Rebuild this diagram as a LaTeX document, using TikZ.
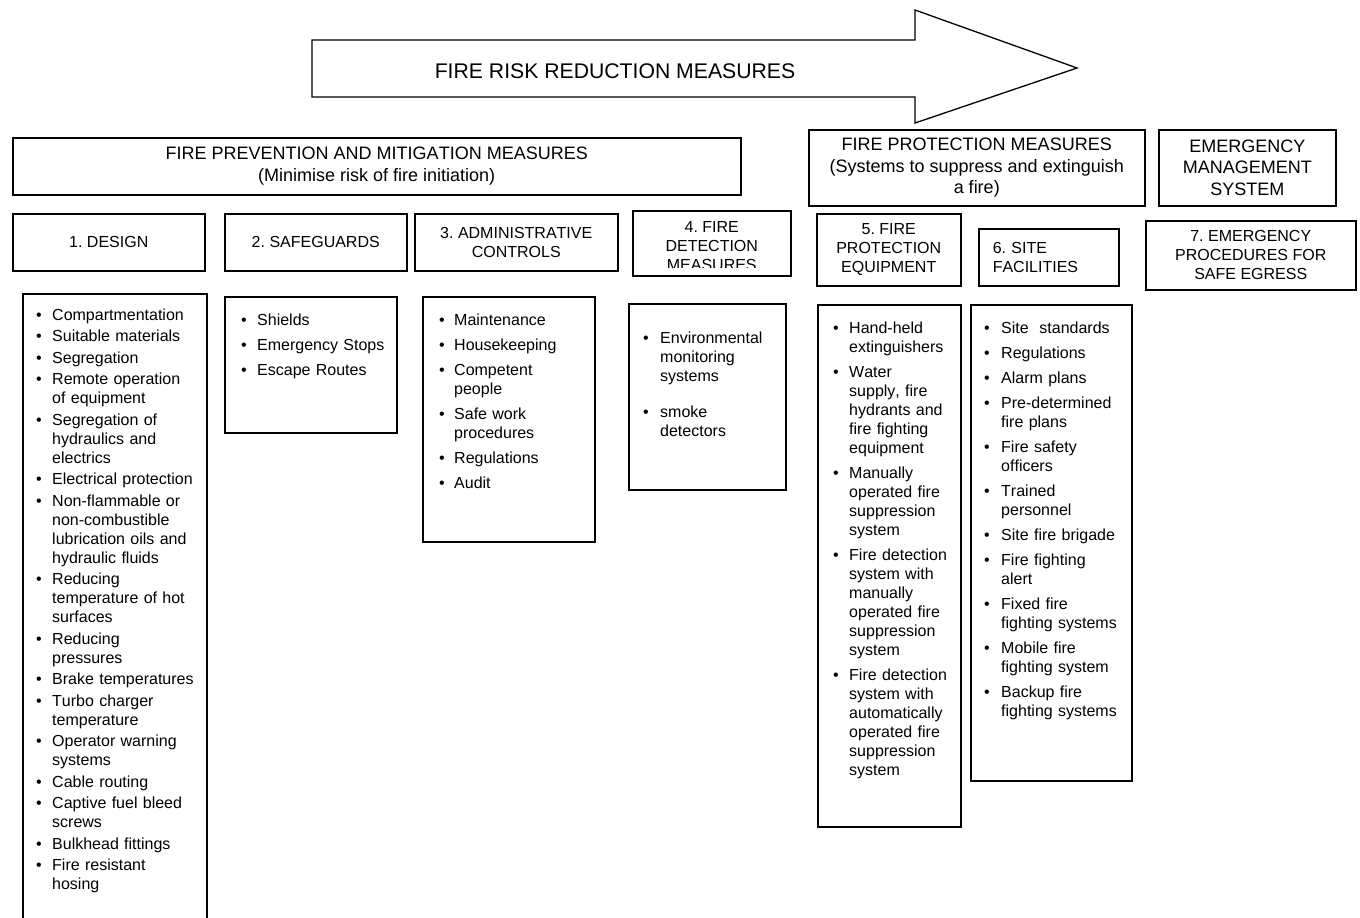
\documentclass[tikz,border=0pt]{standalone}
\usepackage{fontspec}
\setmainfont[Kerning=Off, Ligatures=NoCommon]{Liberation Sans}
\usepackage{enumitem}
\setlist[itemize]{label=\textbullet, align=left, labelsep=8pt, topsep=0pt, partopsep=0pt, parsep=0pt}
\frenchspacing
\hyphenpenalty=10000
\exhyphenpenalty=10000

\tikzset{
	box/.style={draw, line width=1.5pt, inner sep=0pt, anchor=north west},
	hdrtext/.style={font=\fontsize{18}{21.5}\selectfont, align=center},
	coltext/.style={font=\fontsize{16}{19}\selectfont, align=center},
	listtext/.style={inner sep=0pt, anchor=north west, align=left, font=\fontsize{16}{19}\selectfont},
}

\begin{document}
\begin{tikzpicture}[x=1pt,y=-1pt]
		\useasboundingbox (0,0) rectangle (1360,918);

		%ARROW
		\draw[line width=1.3pt, line join=miter] (312,40) -- (915,40) -- (915,10) -- (1077,68) -- (915,123) -- (915,97) -- (312,97) -- cycle;
		\node[font=\fontsize{21.2}{25}\selectfont] (arrowtxt) at (615,71) {FIRE RISK REDUCTION MEASURES};

		%HEADERS
		\node[box, hdrtext, minimum width=728pt, minimum height=57pt] (prevhdr) at (12,137) {FIRE PREVENTION AND MITIGATION MEASURES\\(Minimise risk of fire initiation)};
		\node[box, hdrtext, minimum width=336pt, minimum height=76pt] (prothdr) at (808,129) {FIRE PROTECTION MEASURES\\(Systems to suppress and extinguish\\a fire)};
		\node[box, hdrtext, minimum width=177pt, minimum height=76pt] (emshdr) at (1158,129) {EMERGENCY\\MANAGEMENT\\SYSTEM};

		%COLUMN TITLES
		\node[box, coltext, minimum width=192pt, minimum height=57pt] (design) at (12,213) {1. DESIGN};
		\node[box, coltext, minimum width=182pt, minimum height=57pt] (safe) at (224,213) {2. SAFEGUARDS};
		\node[box, coltext, minimum width=203pt, minimum height=57pt] (admin) at (414,213) {3. ADMINISTRATIVE\\CONTROLS};
		\node[box, minimum width=158pt, minimum height=65pt] (detect) at (632,210) {};
		\begin{scope}
			\clip (detect.north west) rectangle ([yshift=9pt]detect.south east);
			\node[coltext] (detecttxt) at ([yshift=-2.5pt]detect.center) {4. FIRE\\DETECTION\\MEASURES};
		\end{scope}
		\node[box, coltext, minimum width=144pt, minimum height=72pt] (equip) at (816,213) {5. FIRE\\PROTECTION\\EQUIPMENT};
		\node[box, coltext, align=left, inner xsep=14pt, text width=112pt, minimum width=140pt, minimum height=57pt] (site) at (978,228) {6. SITE\\FACILITIES};
		\node[box, coltext, minimum width=210pt, minimum height=69pt] (egress) at (1145,220) {7. EMERGENCY\\PROCEDURES FOR\\SAFE EGRESS};

		%LIST BOXES
		\node[box, minimum width=184pt, minimum height=650pt] (designlist) at (22,293) {};
		\node[box, minimum width=172pt, minimum height=136pt] (safelist) at (224,296) {};
		\node[box, minimum width=172pt, minimum height=245pt] (adminlist) at (422,296) {};
		\node[box, minimum width=157pt, minimum height=186pt] (detectlist) at (628,303) {};
		\node[box, minimum width=143pt, minimum height=522pt] (equiplist) at (817,304) {};
		\node[box, minimum width=161pt, minimum height=476pt] (sitelist) at (970,304) {};

		%LIST ITEMS
		\node[listtext, text width=172pt] (designitems) at ([yshift=-8pt]designlist.north west) {%
			\begin{itemize}[leftmargin=30pt, labelwidth=8pt, itemsep=2.5pt]
			\item Compartmentation
			\item Suitable materials
			\item Segregation
			\item Remote operation of equipment
			\item Segregation of hydraulics and electrics
			\item Electrical protection
			\item Non-flammable or non-combustible lubrication oils and hydraulic fluids
			\item Reducing temperature of hot surfaces
			\item Reducing pressures
			\item Brake temperatures
			\item Turbo charger temperature
			\item Operator warning systems
			\item Cable routing
			\item Captive fuel bleed screws
			\item Bulkhead fittings
			\item Fire resistant hosing
			\end{itemize}};
		\node[listtext, text width=163pt] (safeitems) at ([yshift=-10pt]safelist.north west) {%
			\begin{itemize}[leftmargin=33pt, labelwidth=8pt, itemsep=6pt]
			\item Shields
			\item Emergency Stops
			\item Escape Routes
			\end{itemize}};
		\node[listtext, text width=152pt] (adminitems) at ([yshift=-10pt]adminlist.north west) {%
			\begin{itemize}[leftmargin=32pt, labelwidth=7pt, itemsep=6pt]
			\item Maintenance
			\item Housekeeping
			\item Competent people
			\item Safe work procedures
			\item Regulations
			\item Audit
			\end{itemize}};
		\node[listtext, text width=147pt] (detectitems) at ([yshift=-21pt]detectlist.north west) {%
			\begin{itemize}[leftmargin=32pt, labelwidth=9pt, itemsep=17pt]
			\item Environmental monitoring systems
			\item smoke detectors
			\end{itemize}};
		\node[listtext, text width=130.5pt] (equipitems) at ([yshift=-10pt]equiplist.north west) {%
			\begin{itemize}[leftmargin=32pt, labelwidth=8pt, itemsep=6pt]
			\item Hand-held extinguishers
			\item Water\newline supply, fire hydrants and fire fighting equipment
			\item Manually operated fire suppression system
			\item Fire detection system with manually operated fire suppression system
			\item Fire detection system with automatically operated fire suppression system
			\end{itemize}};
		\node[listtext, text width=148pt] (siteitems) at ([yshift=-10pt]sitelist.north west) {%
			\begin{itemize}[leftmargin=31pt, labelwidth=9pt, itemsep=6pt]
			\item Site\ \ standards
			\item Regulations
			\item Alarm plans
			\item Pre-determined fire plans
			\item Fire safety officers
			\item Trained personnel
			\item Site fire brigade
			\item Fire fighting alert
			\item Fixed fire fighting systems
			\item Mobile fire fighting system
			\item Backup fire fighting systems
			\end{itemize}};
	\end{tikzpicture}
\end{document}
